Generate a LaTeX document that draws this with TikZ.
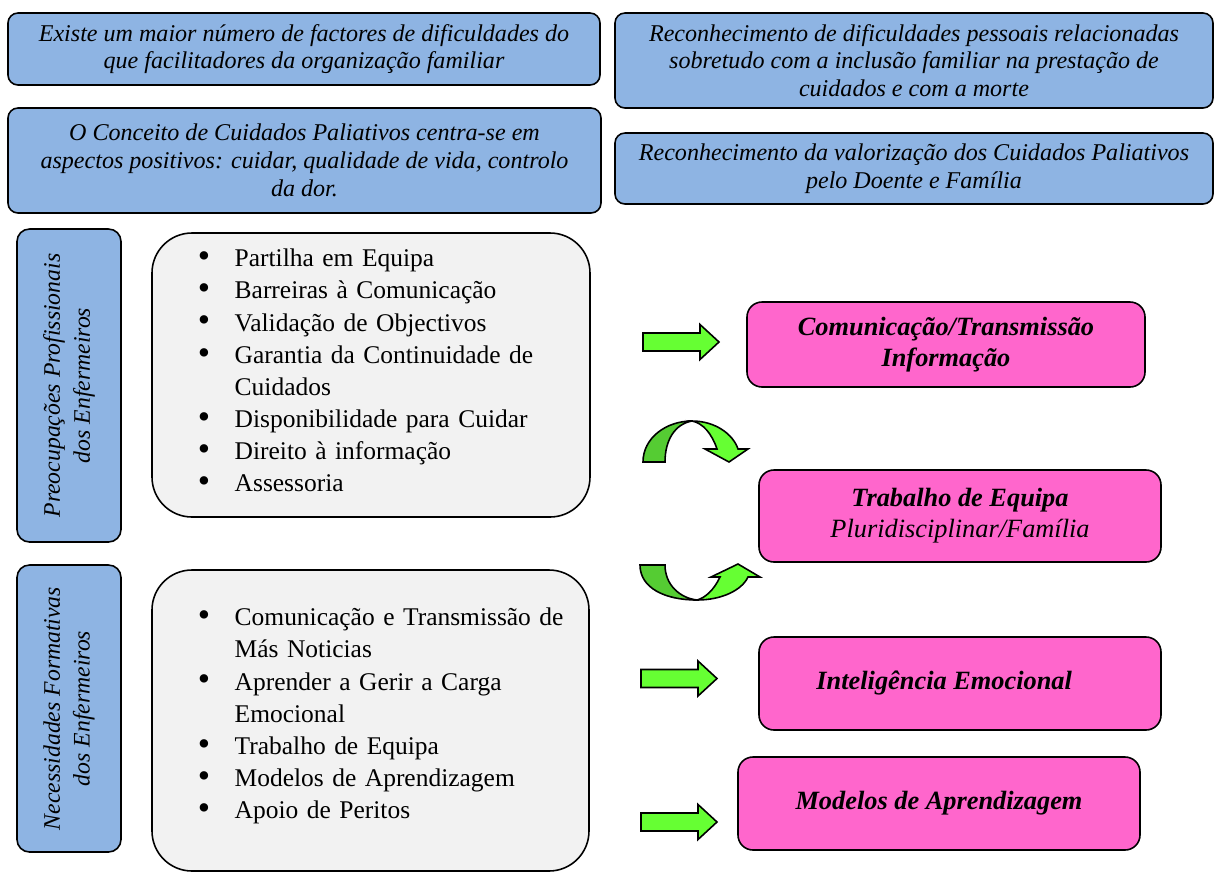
\documentclass[tikz,border=0pt]{standalone}
\usepackage{fontspec}
\setmainfont{Liberation Serif}
\usetikzlibrary{positioning,calc}

\definecolor{boxblue}{HTML}{8EB4E3}
\definecolor{boxpink}{HTML}{FF66CC}
\definecolor{boxgrey}{HTML}{F2F2F2}
\definecolor{arrlight}{HTML}{66FF33}
\definecolor{arrdark}{HTML}{55CC33}

\newcommand{\px}{0.02cm}
% one bullet item, and a wrapped continuation line
\newcommand{\itm}[1]{\par\noindent\makebox[20pt][l]{\hspace*{-1pt}\raisebox{-0.5pt}{\fontsize{20}{18.3}\selectfont\textbullet}}#1}
\newcommand{\cont}[1]{\par\noindent\hspace*{20pt}#1}
% straight block arrow, tip at #1
\newcommand{\garrow}[1]{\draw[grarrow] #1 ++(-76,-9) -- ++(57,0) -- ++(0,-8.5) -- ++(19,17.5) -- ++(-19,17.5) -- ++(0,-8.5) -- ++(-57,0) -- cycle;}

\begin{document}
\begin{tikzpicture}[x=0.02cm,y=-0.02cm,
  sz/.style 2 args={minimum width=#1*\px,minimum height=#2*\px},
  bluebox/.style={draw,line width=0.9pt,fill=boxblue,rounded corners=0.2cm,align=center,inner sep=0pt,
    font=\fontsize{13.7}{15.8}\selectfont\itshape},
  sidebox/.style={bluebox,rounded corners=0.25cm,rotate=90,font=\fontsize{13.5}{17}\selectfont\itshape},
  listbox/.style={draw,line width=0.9pt,fill=boxgrey,rounded corners=0.8cm,inner sep=0pt},
  listtxt/.style={anchor=north west,inner sep=0pt,text width=8cm,align=left,font=\fontsize{14.5}{18.3}\selectfont},
  pinkbox/.style={draw,line width=0.9pt,fill=boxpink,rounded corners=0.3cm,align=center,inner sep=0pt,
    font=\fontsize{15}{17.6}\selectfont\bfseries\itshape},
  grarrow/.style={draw,line width=0.9pt,fill=arrlight,line join=miter},
  grdark/.style={grarrow,fill=arrdark}]

\useasboundingbox (0,0) rectangle (1215,873);

% top blue boxes
\node[bluebox,sz={592}{72}] (fact) at (304,49)
  {Existe um maior número de factores de dificuldades do\\que facilitadores da organização familiar};
\node[bluebox,sz={593}{105}] (conc) at (304.5,160.5)
  {O Conceito de Cuidados Paliativos centra-se em\\aspectos positivos: cuidar, qualidade de vida, controlo\\da dor.};
\node[bluebox,sz={598}{95}] (recdif) at (914,60.5)
  {Reconhecimento de dificuldades pessoais relacionadas\\sobretudo com a inclusão familiar na prestação de\\cuidados e com a morte};
\node[bluebox,sz={598}{71}] (recval) at (914,168.5)
  {Reconhecimento da valorização dos Cuidados Paliativos\\pelo Doente e Família};

% side labels
\node[sidebox,sz={313}{104}] (preoc) at (69,385.5) {Preocupações Profissionais\\dos Enfermeiros};
\node[sidebox,sz={287}{104}] (necess) at (69,708.5) {Necessidades Formativas\\dos Enfermeiros};

% lists
\node[listbox,sz={438}{284}] (list1) at (371,375) {};
\node[listtxt] (list1txt) at ($(list1.north west)+(48,2)$) {%
  \itm{Partilha em Equipa}
  \itm{Barreiras à Comunicação}
  \itm{Validação de Objectivos}
  \itm{Garantia da Continuidade de}
  \cont{Cuidados}
  \itm{Disponibilidade para Cuidar}
  \itm{Direito à informação}
  \itm{Assessoria}};
\node[listbox,sz={437}{301}] (list2) at (370.5,720.5) {};
\node[listtxt] (list2txt) at ($(list2.north west)+(48,24)$) {%
  \itm{Comunicação e Transmissão de}
  \cont{Más Noticias}
  \itm{Aprender a Gerir a Carga}
  \cont{Emocional}
  \itm{Trabalho de Equipa}
  \itm{Modelos de Aprendizagem}
  \itm{Apoio de Peritos}};

% pink boxes
\node[pinkbox,sz={398}{85}] (comun) at (946,344.5) {Comunicação/Transmissão\\Informação};
\node[pinkbox,sz={402}{92}] (equipa) at (960,516) {Trabalho de Equipa\\{\mdseries Pluridisciplinar/Família}};
\node[pinkbox,sz={402}{93}] (emoc) at (960,683.5) {Inteligência Emocional\hspace*{18pt}};
\node[pinkbox,sz={402}{93}] (model) at (939,803.5) {Modelos de Aprendizagem};

% green arrows
\garrow{(719,342)}
\garrow{(717,678.5)}
\garrow{(717,822)}

% curved arrow, top
\draw[grdark] (643,462) -- (665,462) .. controls (665,440) and (675,424) .. (692,421)
  .. controls (666,421) and (643,438) .. (643,462) -- cycle;
\draw[grarrow] (692,421) .. controls (715,421) and (733,434) .. (738,449) -- (748,449) -- (729,462)
  -- (705,449) -- (717,449) .. controls (712,434) and (703,423) .. (692,421) -- cycle;
% curved arrow, bottom
\draw[grdark] (640,565) -- (665,565) .. controls (665,585) and (680,598) .. (697,600)
  .. controls (665,600) and (640,588) .. (640,565) -- cycle;
\draw[grarrow] (697,600) .. controls (722,600) and (742,590) .. (748,577) -- (760,577) -- (738,564)
  -- (711,577) -- (720,577) .. controls (714,590) and (705,598) .. (697,600) -- cycle;
\end{tikzpicture}
\end{document}
